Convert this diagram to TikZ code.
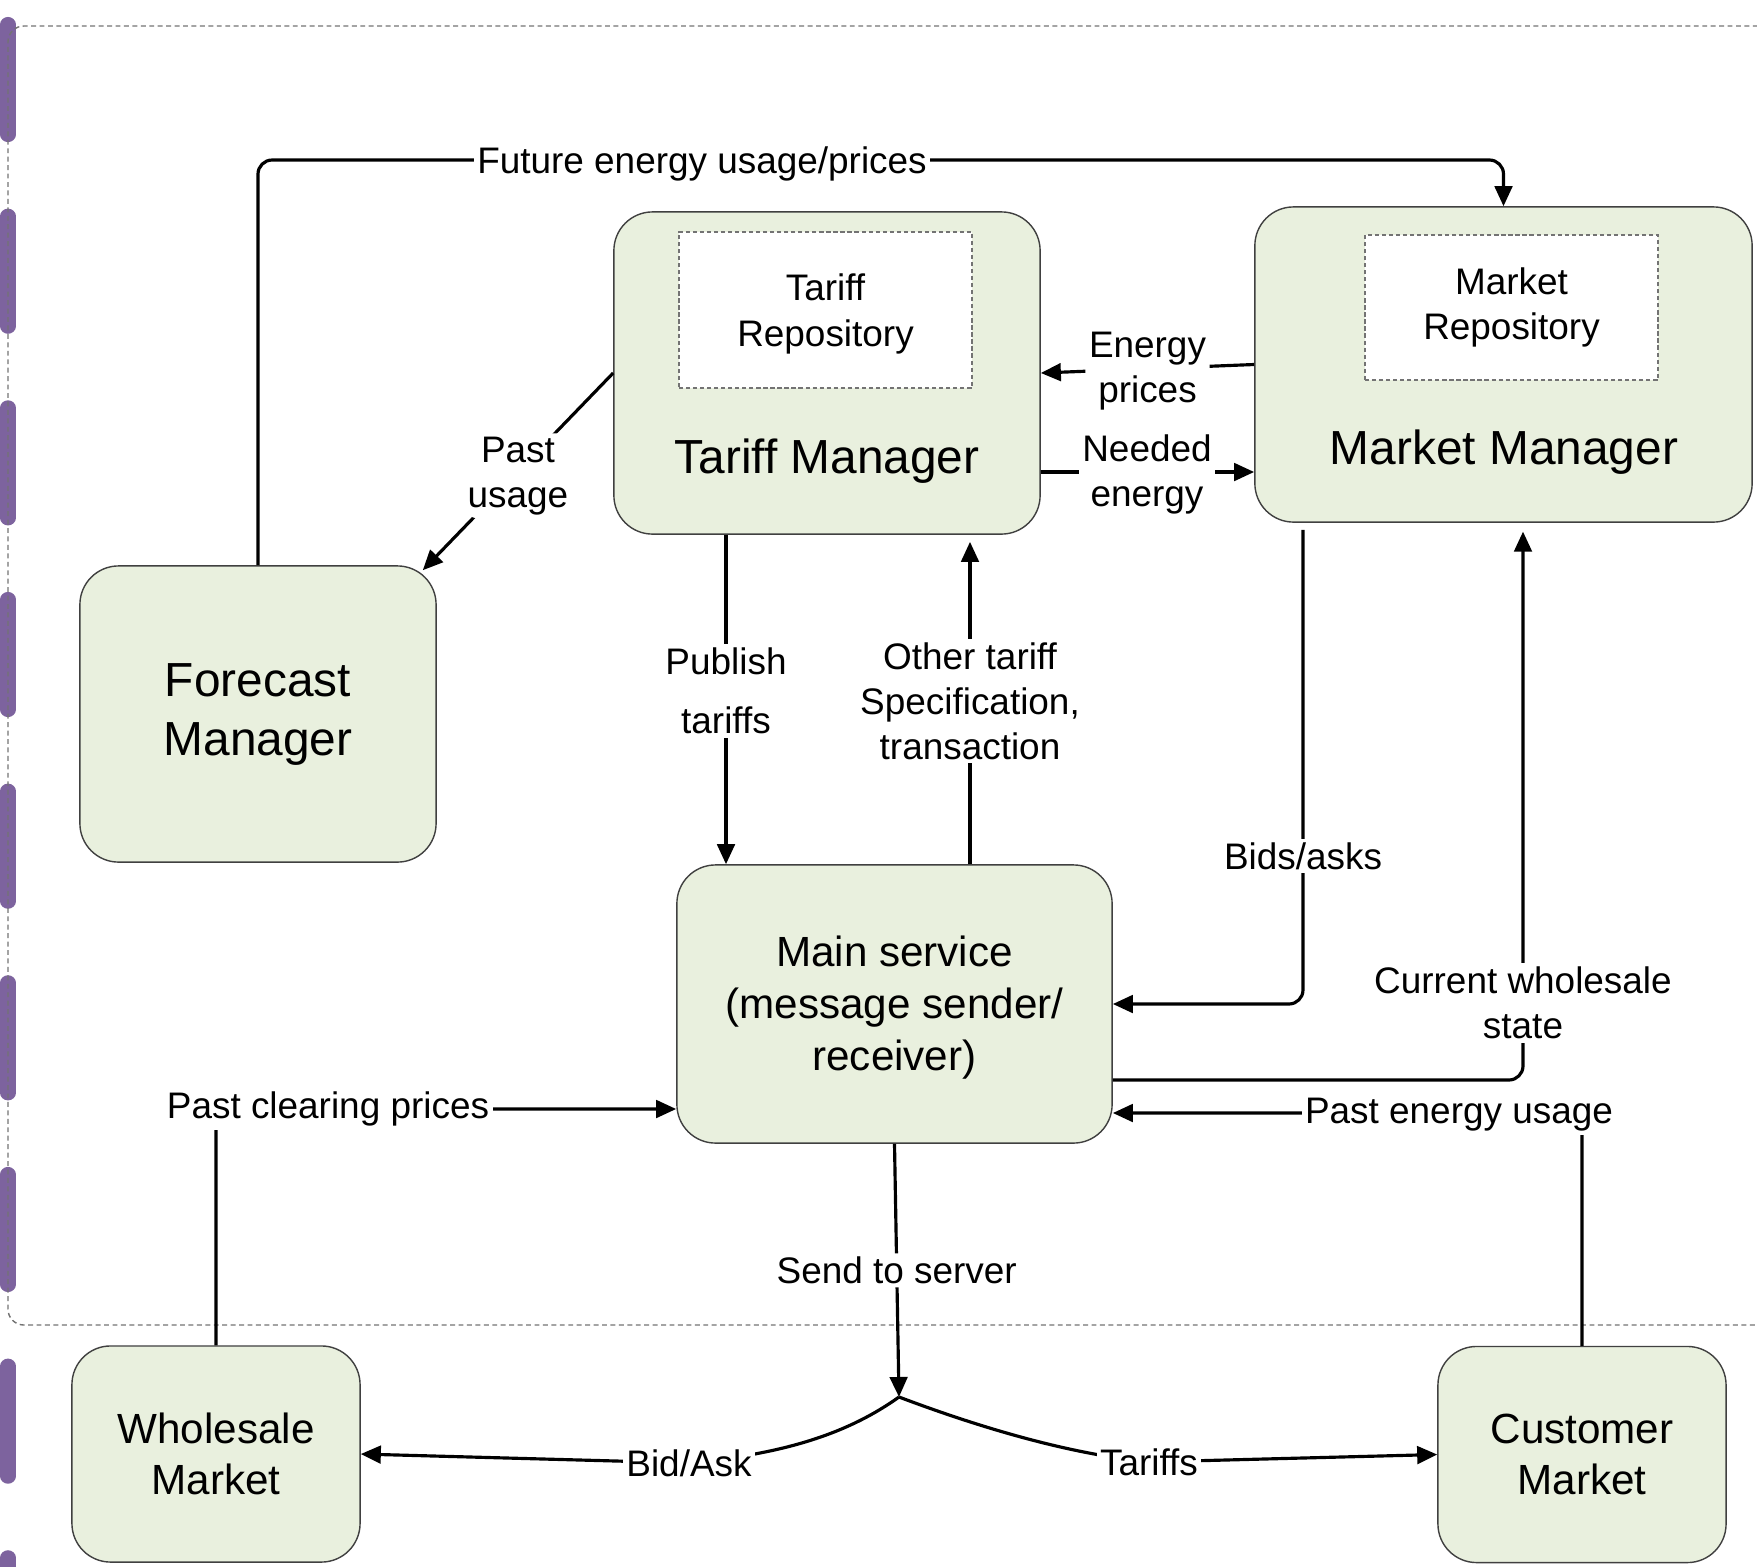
\documentclass[tikz,border=0pt]{standalone}
\usepackage{fontspec}
\setmainfont{Liberation Sans}
\usetikzlibrary{arrows.meta,calc}

\definecolor{boxgreen}{RGB}{233,240,222}
\definecolor{lanepurple}{RGB}{125,99,158}

\tikzset{
  module/.style={draw=black!75, line width=0.4pt, fill=boxgreen, rounded corners=11pt},
  repo/.style={draw=black!55, line width=0.4pt, fill=white, dash pattern=on 1.2pt off 0.8pt,
    align=center, font=\fontsize{10.5}{13}\selectfont},
  conn/.style={line width=0.9pt, rounded corners=4pt},
  lbl/.style={fill=white, inner sep=1pt, align=center, font=\fontsize{10.5}{12.8}\selectfont},
  bigtxt/.style={align=center, font=\fontsize{13.6}{16.6}\selectfont},
  midtxt/.style={align=center, font=\fontsize{12}{14.7}\selectfont},
}

\begin{document}
\begin{tikzpicture}[x=0.01cm, y=-0.01cm, >={Triangle[length=5.7pt,width=5pt]}]
        \useasboundingbox (0,0) rectangle (1757,1566);

        % lane marker and boundary
        \draw[lanepurple, line width=4.3pt, line cap=round, dash pattern=on 31.3pt off 23.2pt] (8,24.5) -- (8,1600);
        \draw[black!55, line width=0.4pt, dash pattern=on 1.4pt off 1pt, rounded corners=4.5pt] (1800,26) -- (8,26) -- (8,1325) -- (1800,1325);

        % modules
        \node[module, minimum width=4.26cm, minimum height=3.22cm] (tm) at (827,373) {};
        \node[repo, minimum width=2.93cm, minimum height=1.56cm, text depth=-0.5pt] (tr) at (825.5,310) {Tariff\\Repository};
        \node[bigtxt] (tmt) at (827,461.5) {Tariff Manager};

        \node[module, minimum width=4.97cm, minimum height=3.15cm] (mm) at (1503.5,364.5) {};
        \node[repo, minimum width=2.93cm, minimum height=1.45cm] (mr) at (1511.5,307.5) {Market\\Repository};
        \node[bigtxt] (mmt) at (1504,452.5) {Market Manager};

        \node[module, minimum width=3.56cm, minimum height=2.96cm] (fm) at (258,714) {};
        \node[bigtxt] (fmt) at (258,714.5) {Forecast\\Manager};
        \node[module, midtxt, minimum width=4.35cm, minimum height=2.78cm] (ms) at (894.5,1004) {};
        \node[midtxt] (mst) at (894.5,1007.5) {Main service\\(message sender/\\receiver)};
        \node[module, midtxt, minimum width=2.88cm, minimum height=2.16cm] (wm) at (216,1454) {Wholesale\\Market};
        \node[module, midtxt, minimum width=2.88cm, minimum height=2.16cm] (cm) at (1582,1454.5) {Customer\\Market};

        % label positions
        \coordinate (fut) at (702,160);
        \coordinate (ne) at (1147,472);
        \coordinate (pub) at (726,691);
        \coordinate (oth) at (970,701);
        \coordinate (bid) at (1303,856);
        \coordinate (cws) at (1523,1003);
        \coordinate (peu) at (1459,1113);
        \coordinate (pcp) at (328,1109);
        \coordinate (split) at (899,1397);
        \coordinate (ba) at (689,1463);
        \coordinate (tf) at (1149,1462);

        % connectors
        \draw[conn,->] (fm.north) |- (fut) -| (mm.north);
        \draw[conn,->] (tm.west) -- node[lbl, yshift=-1.2pt] (pul) {Past\\usage} ($(fm.north east)+(-14,5)$);
        \draw[conn,->] (mm.west) -- node[lbl, yshift=-0.6pt] (epl) {Energy\\prices} (tm.east);
        \draw[conn,->] (tm.east |- ne) -- (mm.west |- ne);
        \draw[conn,->] (tm.south -| pub) -- (ms.north -| pub);
        \draw[conn,->,shorten >=2pt] (ms.north -| oth) -- (tm.south -| oth);
        \draw[conn,->,shorten <=2pt] (mm.south -| bid) |- (ms.east);
        \draw[conn,->,shorten >=2.5pt] ($(ms.east)+(0,76)$) -| (mm.south -| cws);
        \draw[conn,->] (cm.north) |- (ms.east |- peu);
        \draw[conn,->] (wm.north) |- (ms.west |- pcp);
        \draw[conn,->] (ms.south) -- node[lbl] (sts) {Send to server} (split);
        \draw[conn,->] (split) .. controls (850,1432) and (790,1452) .. (ba) -- (wm.east);
        \draw[conn,->] (split) .. controls (960,1420) and (1050,1450) .. (tf) -- (cm.west);

        % labels
        \node[lbl, yshift=-1.1pt] (futl) at (fut) {Future energy usage/prices};
        \node[lbl, yshift=-0.6pt] (nel) at (ne) {Needed\\energy};
        \node[lbl] (publ) at (pub) {Publish\\[4pt]tariffs};
        \node[lbl] (othl) at (oth) {Other tariff\\Specification,\\transaction};
        \node[lbl] (bidl) at (bid) {Bids/asks};
        \node[lbl] (cwsl) at (cws) {Current wholesale\\state};
        \node[lbl, yshift=-0.6pt] (peul) at (peu) {Past energy usage};
        \node[lbl] (pcpl) at (pcp) {Past clearing prices};
        \node[lbl] (bal) at (ba) {Bid/Ask};
        \node[lbl] (tfl) at (tf) {Tariffs};

\end{tikzpicture}
\end{document}
